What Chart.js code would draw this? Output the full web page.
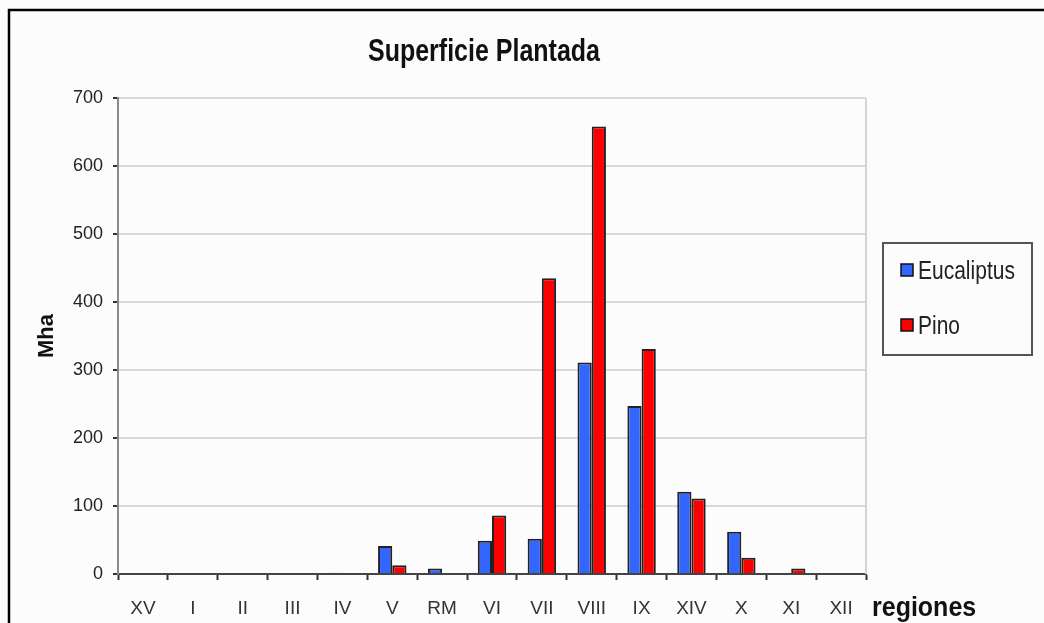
<!DOCTYPE html>
<html>
<head>
<meta charset="utf-8">
<script src="https://cdn.jsdelivr.net/npm/chart.js@4"></script>
<style>
    html, body { margin: 0; padding: 0; background: #fcfcfc; }
    #wrap { width: 1044px; height: 623px; position: relative; }
</style>
</head>
<body>
<div id="wrap"><canvas id="plantedChart"></canvas></div>
<script>
const chartTitle = 'Superficie Plantada';
const xAxisTitle = 'regiones';
const yAxisTitle = 'Mha';

const regiones = ['XV', 'I', 'II', 'III', 'IV', 'V', 'RM', 'VI', 'VII', 'VIII', 'IX', 'XIV', 'X', 'XI', 'XII'];
const eucaliptus = [0, 0, 0, 0, 2, 41, 8, 49, 52, 311, 247, 121, 62, 0, 0];
const pino = [0, 0, 0, 0, 0, 13, 0, 86, 435, 658, 331, 111, 24, 8, 0];
const yTicks = { min: 0, max: 700, step: 100 };

const FONT = '"Liberation Sans", Arial, sans-serif';
Chart.defaults.font.family = FONT;

// the source picture is a bit stretched vertically, so the drawn texts are too
function tallText(ctx, text, x, y, stretch) {
    ctx.save();
    ctx.translate(x, y);
    ctx.scale(1, stretch);
    ctx.fillText(text, 0, 0);
    ctx.restore();
}

// frame, title, x title, legend box and right edge of plot
const sheetDecorPlugin = {
    id: 'sheetDecor',
    beforeDraw(chart) {
        const { ctx, width, height } = chart;
        ctx.save();
        ctx.fillStyle = '#fcfcfc';
        ctx.fillRect(0, 0, width, height);
        ctx.restore();
    },
    beforeDatasetsDraw(chart) {
        const { ctx, chartArea: { right, top, bottom } } = chart;
        ctx.save();
        ctx.strokeStyle = '#d4d4d4';
        ctx.lineWidth = 2;
        ctx.beginPath();
        ctx.moveTo(right, top);
        ctx.lineTo(right, bottom);
        ctx.stroke();
        ctx.restore();
    },
    afterDraw(chart) {
        const { ctx, width, height, chartArea } = chart;
        ctx.save();

        // outer frame (top and left only, the rest is cropped)
        ctx.strokeStyle = '#000';
        ctx.lineWidth = 2.5;
        ctx.beginPath();
        ctx.moveTo(width, 10);
        ctx.lineTo(9, 10);
        ctx.lineTo(9, height);
        ctx.stroke();

        ctx.fillStyle = '#111';
        ctx.font = `bold 25px ${FONT}`;
        ctx.textAlign = 'center';
        ctx.textBaseline = 'alphabetic';
        tallText(ctx, chartTitle, 484, 61, 1.25);

        ctx.font = `bold 25px ${FONT}`;
        ctx.textAlign = 'left';
        tallText(ctx, xAxisTitle, chartArea.right + 6, 616, 1.12);

        // legend
        const box = { x: 883, y: 243, w: 149, h: 112 };
        ctx.strokeStyle = '#555';
        ctx.lineWidth = 2;
        ctx.strokeRect(box.x, box.y, box.w, box.h);
        ctx.font = `21px ${FONT}`;
        ctx.textBaseline = 'alphabetic';
        chart.data.datasets.forEach((ds, i) => {
            const cy = 270 + i * 55;
            ctx.fillStyle = ds.backgroundColor;
            ctx.fillRect(901, cy - 6, 12, 12);
            ctx.strokeStyle = '#111';
            ctx.lineWidth = 1.5;
            ctx.strokeRect(901, cy - 6, 12, 12);
            ctx.fillStyle = '#222';
            tallText(ctx, ds.label, 918, cy + 9, 1.2);
        });
        ctx.restore();
    }
};

const chart = new Chart(document.getElementById('plantedChart'), {
    type: 'bar',
    data: {
        labels: regiones,
        datasets: [
            {
                label: 'Eucaliptus',
                data: eucaliptus,
                backgroundColor: '#3366ff',
                borderColor: '#222',
                borderWidth: 2
            },
            {
                label: 'Pino',
                data: pino,
                backgroundColor: '#ff0000',
                borderColor: '#222',
                borderWidth: 2
            }
        ]
    },
    options: {
        responsive: true,
        maintainAspectRatio: false,
        animation: false,
        layout: { padding: { top: 98, left: 0, right: 178, bottom: 0 } },
        datasets: { bar: { categoryPercentage: 0.57, barPercentage: 1 } },
        scales: {
            x: {
                grid: {
                    display: true,
                    drawOnChartArea: false,
                    drawTicks: true,
                    tickLength: 6,
                    tickColor: '#333',
                    tickWidth: 2,
                    offset: true
                },
                border: { display: true, color: '#444', width: 2 },
                ticks: { color: '#333', font: { size: 19 }, padding: 17, maxRotation: 0, autoSkip: false },
                afterFit(scale) { scale.height = 49; }
            },
            y: {
                min: yTicks.min,
                max: yTicks.max,
                grid: {
                    color: '#d9d9d9',
                    lineWidth: 2,
                    tickLength: 5,
                    tickColor: '#333',
                    tickWidth: 2
                },
                border: { display: true, color: '#8a8a8a', width: 2 },
                ticks: { stepSize: yTicks.step, color: '#222', font: { size: 18 }, padding: 10 },
                title: {
                    display: true,
                    text: yAxisTitle,
                    color: '#111',
                    font: { size: 22, weight: 'bold' },
                    padding: { top: 34, bottom: 0 }
                },
                afterFit(scale) { scale.width = 118; }
            }
        },
        plugins: {
            legend: { display: false },
            title: { display: false },
            tooltip: { enabled: false }
        }
    },
    plugins: [sheetDecorPlugin]
});
</script>
</body>
</html>
